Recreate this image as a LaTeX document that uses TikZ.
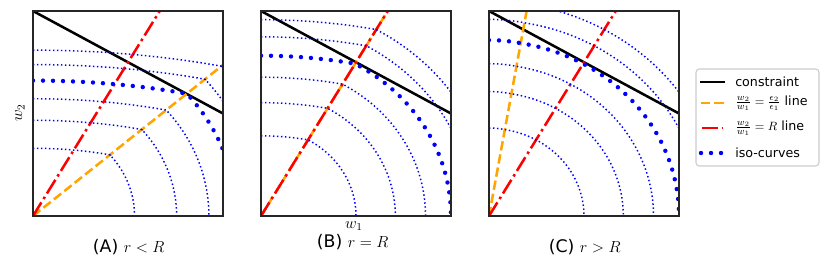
\documentclass[tikz,border=0pt]{standalone}
\usepackage{amsmath}
\usepackage{fontspec}
\setmainfont{DejaVu Sans}
\usepackage{tikz}
\definecolor{mplblue}{HTML}{0000FF}
\definecolor{mplorange}{HTML}{FFA500}
\definecolor{mplred}{HTML}{FF0000}
% iso-curve of level #5: upper ellipse (axes #1,#2) down to the kink (#3),
% then the lower ellipse (ratio 0.855) from the kink (#4) to the w1 axis
\newcommand{\isopath}[5]{plot[samples=40, domain=90:#3]
  ({#1*#5*cos(\x)}, {#2*#5*sin(\x)}) -- plot[samples=40, domain=#4:0]
  ({#5*cos(\x)}, {0.855*#5*sin(\x)})}

\begin{document}
\begin{tikzpicture}[x=0.75pt, y=0.75pt,
  panelbox/.style={draw=black!85, line width=0.8pt},
  cons/.style={black, line width=1.9pt},
  epsline/.style={mplorange, line width=1.9pt, dash pattern=on 7pt off 3pt},
  rline/.style={mplred, line width=1.9pt,
    dash pattern=on 12pt off 3pt on 1.9pt off 3pt},
  iso/.style={mplblue, line width=1.1pt, dash pattern=on 1.1pt off 1.9pt},
  isobold/.style={mplblue, line width=3.3pt, line cap=round,
    dash pattern=on 0pt off 7.5pt},
  subcap/.style={font=\fontsize{13}{15}\selectfont},
  axlab/.style={font=\fontsize{12}{14}\selectfont},
  legtext/.style={font=\fontsize{9.5}{11}\selectfont, anchor=west,
    inner sep=0pt}]
\useasboundingbox (0,0) rectangle (831,269);
% ---------------- panel A: r < R ----------------
\begin{scope}[xshift=24.75pt, yshift=39.75pt, x=142.5pt, y=153.75pt]
\begin{scope}
\clip (0,0) rectangle (1,1);
\draw[cons] (0,1) -- (1,0.5);
\draw[epsline] (0,0) -- (1,0.737);
\draw[rline] (0,0) -- (0.667,1);
\foreach \c in {0.5345,0.7559,0.9258,1.1952,1.3093}
  \draw[iso] \isopath{1.7647}{0.618}{64.58}{40.77}{\c};
\draw[isobold] \isopath{1.7647}{0.618}{64.58}{40.77}{1.0690};
\end{scope}
\draw[panelbox] (0,0) rectangle (1,1);
\end{scope}
% ---------------- panel B: r = R ----------------
\begin{scope}[xshift=195.75pt, yshift=39.75pt, x=142.5pt, y=153.75pt]
\begin{scope}
\clip (0,0) rectangle (1,1);
\draw[cons] (0,1) -- (1,0.5);
\draw[epsline] (0,0) -- (0.667,1);
\draw[rline] (0,0) -- (0.667,1);
\foreach \c in {0.5,0.7071,0.8660,1.1180,1.2247}
  \draw[iso] \isopath{1.584}{0.782}{71.78}{60.32}{\c};
\draw[isobold] \isopath{1.584}{0.782}{71.78}{60.32}{1.0};
\end{scope}
\draw[panelbox] (0,0) rectangle (1,1);
\end{scope}
% ---------------- panel C: r > R ----------------
\begin{scope}[xshift=366.75pt, yshift=39.75pt, x=142.5pt, y=153.75pt]
\begin{scope}
\clip (0,0) rectangle (1,1);
\draw[cons] (0,1) -- (1,0.5);
\draw[epsline] (0,0) -- (0.198,1);
\draw[rline] (0,0) -- (0.667,1);
\foreach \c in {0.5,0.7071,0.8660,1.1180,1.2247}
  \draw[iso] \isopath{0.903}{0.858}{79.35}{80.39}{\c};
\draw[isobold] \isopath{0.903}{0.858}{79.35}{80.39}{1.0};
\end{scope}
\draw[panelbox] (0,0) rectangle (1,1);
\end{scope}
% axis labels and captions
\node[axlab, rotate=90] (wtwo) at (20,156) {$w_2$};
\node[axlab] (wone) at (354,43) {$w_1$};
\node[subcap] (capA) at (128.7,22) {(A) $r<R$};
\node[subcap] (capB) at (352.7,27) {(B) $r=R$};
\node[subcap] (capC) at (584.7,22) {(C) $r>R$};
% ---------------- legend ----------------
\draw[draw=black!20, line width=0.8pt, fill=white, rounded corners=2.5pt]
  (696,103) rectangle (819,200);
\draw[cons] (700,187) -- (725,187);
\draw[epsline] (701,166) -- (724,166);
\draw[rline] (701.7,141) -- (723,141);
\draw[isobold] (701,116) -- (722.5,116);
\node[legtext] (lcons) at (735,187) {constraint};
\node[legtext] (leps) at (735,166)
  {$\frac{w_2}{w_1}=\frac{\epsilon_2}{\epsilon_1}$ line};
\node[legtext] (lR) at (735,141) {$\frac{w_2}{w_1}=R$ line};
\node[legtext] (liso) at (735,116) {iso-curves};
\end{tikzpicture}
\end{document}
